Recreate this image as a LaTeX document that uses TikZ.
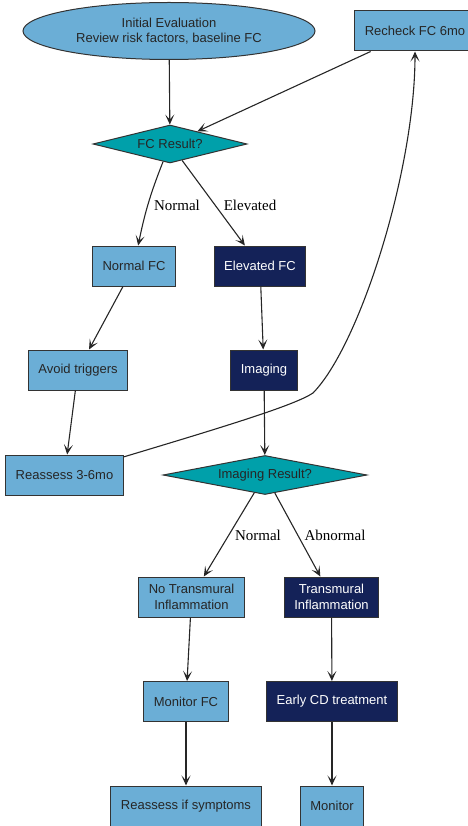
\documentclass[tikz,border=0pt]{standalone}
\usepackage{fontspec}
\setmainfont{Liberation Sans}
\newfontfamily\lblfont{Liberation Serif}
\usetikzlibrary{shapes.geometric,arrows.meta,positioning}
\definecolor{lightfill}{RGB}{107,174,214}
\definecolor{navyfill}{RGB}{20,34,88}
\definecolor{tealfill}{RGB}{0,160,170}
\definecolor{edgegray}{RGB}{51,51,51}
\tikzset{
  basebox/.style={draw=edgegray, line width=1pt, align=center,
    font=\fontsize{13}{15.5}\selectfont, minimum height=40pt,
    inner xsep=10pt, inner ysep=2pt},
  lightbox/.style={basebox, fill=lightfill, text=black!85},
  darkbox/.style={basebox, fill=navyfill, text=white},
  choice/.style={basebox, diamond, fill=tealfill, text=black!85,
    shape aspect=5, inner sep=0pt},
  flow/.style={-{Stealth[length=10pt,width=9pt,inset=5pt]},
    draw=black!85, line width=1.1pt},
  lbl/.style={font=\lblfont\fontsize{15}{17}\selectfont, inner sep=0pt}
}

\begin{document}
\begin{tikzpicture}[x=1pt,y=-1pt]
  \useasboundingbox (0,0) rectangle (467,826);
  % first FC test
  \node[lightbox, ellipse, minimum width=292pt, minimum height=57pt, inner sep=0pt]
    (init) at (169,31) {Initial Evaluation\\Review risk factors, baseline FC};
  \node[lightbox, minimum width=120pt] (recheck) at (415,31) {Recheck FC 6mo};
  \node[choice, minimum width=154pt, minimum height=38pt] (fcres) at (170,144) {FC Result?};
  \node[lightbox] (normalfc) at (134,266) {Normal FC};
  \node[darkbox] (elevfc) at (260,266) {Elevated FC};
  \node[lightbox] (avoid) at (78,370) {Avoid triggers};
  \node[darkbox] (imaging) at (264,370) {Imaging};
  \node[lightbox] (reassess) at (64.5,475) {Reassess 3-6mo};
  % imaging branch
  \node[choice, minimum width=204pt, minimum height=39pt] (imgres) at (265,475) {Imaging Result?};
  \node[lightbox] (notrans) at (191.5,597) {No Transmural\\Inflammation};
  \node[darkbox] (trans) at (331.5,597) {Transmural\\Inflammation};
  \node[lightbox] (monfc) at (186,701.5) {Monitor FC};
  \node[darkbox] (early) at (332,701.5) {Early CD treatment};
  \node[lightbox] (ifsympt) at (186,806) {Reassess if symptoms};
  \node[lightbox] (monitor) at (332,806) {Monitor};
  % edge labels
  \node[lbl] (lnormal) at (177,205) {Normal};
  \node[lbl] (lelev) at (250,205) {Elevated};
  \node[lbl] (lnormal2) at (258,535) {Normal};
  \node[lbl] (labn) at (335,535) {Abnormal};
  % connectors
  \draw[flow] (init) -- (fcres);
  \draw[flow] (recheck) -- (fcres);
  \draw[flow] (fcres) to[bend right=5] (normalfc);
  \draw[flow] (fcres) -- (elevfc);
  \draw[flow] (normalfc) -- (avoid);
  \draw[flow] (elevfc) -- (imaging);
  \draw[flow] (avoid) -- (reassess);
  \draw[flow] (imaging) -- (imgres);
  \coordinate (kink) at (313,393);
  \draw[flow] (reassess.17) .. controls (230,425) and (295,405) .. (kink)
    .. controls (360,345) and (415,170) .. (recheck.south);
  \draw[flow] (imgres) -- (notrans);
  \draw[flow] (imgres) -- (trans);
  \draw[flow] (notrans) -- (monfc);
  \draw[flow] (trans) -- (early);
  \draw[flow] (monfc) -- (ifsympt);
  \draw[flow] (early) -- (monitor);
\end{tikzpicture}
\end{document}
